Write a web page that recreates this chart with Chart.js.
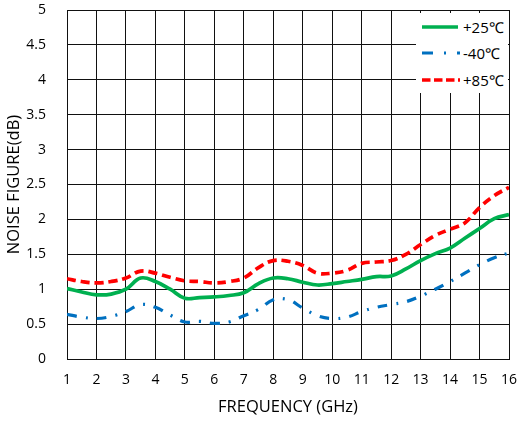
<!DOCTYPE html>
<html>
<head>
<meta charset="utf-8">
<script src="https://cdn.jsdelivr.net/npm/chart.js@4.4.1/dist/chart.umd.min.js"></script>
<style>
  html, body { margin: 0; padding: 0; background: #fff; }
  #wrap { position: relative; width: 517px; height: 421px; }
  #legend {
    position: absolute; left: 416px; top: 13px; width: 92px; height: 80px;
    background: #fff; font-family: "Open Sans", "Liberation Sans", sans-serif; font-size: 15px; color: #000;
  }
  .row { position: absolute; left: 6px; height: 20px; display: flex; align-items: center; }
  .row svg { width: 38px; height: 6px; margin-right: 3px; }
</style>
</head>
<body>
<div id="wrap">
  <canvas id="nf" width="517" height="421"></canvas>
  <div id="legend">
    <div class="row" style="top:4px"><svg><line x1="0" y1="3" x2="36" y2="3" stroke="#00B050" stroke-width="3.5"/></svg>+25℃</div>
    <div class="row" style="top:30px"><svg><line x1="0" y1="3" x2="38" y2="3" stroke="#0070C0" stroke-width="3" stroke-dasharray="11 11 2 11"/></svg>-40℃</div>
    <div class="row" style="top:57px"><svg><line x1="0" y1="3" x2="38" y2="3" stroke="#FF0000" stroke-width="3.5" stroke-dasharray="8.5 3.5"/></svg>+85℃</div>
  </div>
</div>
<script>
// ── Data ──
const freqGHz = [1, 1.5, 2, 2.5, 3, 3.5, 4, 4.5, 5, 5.5, 6, 6.5, 7, 7.5, 8, 8.5,
                 9, 9.5, 10, 10.5, 11, 11.5, 12, 12.5, 13, 13.5, 14, 14.5, 15, 15.5, 16];
const nf25 = [1.01, 0.96, 0.92, 0.93, 1.00, 1.16, 1.11, 1.00, 0.87, 0.88, 0.89, 0.91, 0.95, 1.08, 1.16, 1.15,
              1.10, 1.06, 1.08, 1.11, 1.14, 1.18, 1.19, 1.29, 1.41, 1.51, 1.59, 1.73, 1.87, 2.01, 2.07];
const nfM40 = [0.64, 0.60, 0.58, 0.61, 0.68, 0.78, 0.74, 0.63, 0.53, 0.54, 0.51, 0.53, 0.62, 0.71, 0.85, 0.85,
               0.73, 0.62, 0.58, 0.60, 0.68, 0.74, 0.78, 0.82, 0.90, 1.00, 1.11, 1.23, 1.35, 1.45, 1.52];
const nf85 = [1.15, 1.11, 1.09, 1.11, 1.16, 1.26, 1.23, 1.17, 1.12, 1.11, 1.09, 1.11, 1.16, 1.31, 1.41, 1.40,
              1.34, 1.23, 1.23, 1.27, 1.37, 1.39, 1.41, 1.50, 1.64, 1.77, 1.86, 1.95, 2.17, 2.34, 2.46];
const seriesNames = ['+25℃', '-40℃', '+85℃'];

const pts = arr => arr.map((v, i) => ({ x: freqGHz[i], y: v }));
const font = { family: '"Open Sans", "Liberation Sans", sans-serif' };

new Chart(document.getElementById('nf'), {
  type: 'line',
  data: {
    datasets: [
      { label: seriesNames[0], data: pts(nf25), borderColor: '#00B050', borderWidth: 3.7, tension: 0.4 },
      { label: seriesNames[1], data: pts(nfM40), borderColor: '#0070C0', borderWidth: 3.2, tension: 0.4,
        borderDash: [10, 9, 2, 9] },
      { label: seriesNames[2], data: pts(nf85), borderColor: '#FF0000', borderWidth: 3.7, tension: 0.4,
        borderDash: [9, 5] }
    ]
  },
  options: {
    responsive: false,
    animation: false,
    devicePixelRatio: 1,
    elements: { point: { radius: 0 } },
    layout: { padding: 0 },
    plugins: { legend: { display: false }, tooltip: { enabled: false } },
    scales: {
      x: {
        type: 'linear', min: 1, max: 16,
        grid: { color: '#111', drawTicks: false },
        border: { color: '#111' },
        ticks: { stepSize: 1, padding: 13, color: '#000', font: { ...font, size: 14 } },
        title: { display: true, text: 'FREQUENCY (GHz)', color: '#000', font: { ...font, size: 16.5 } },
        // fixed box: plot ends 8px from the right edge
        afterFit: s => { s.height = 62; s.paddingLeft = 0; s.paddingRight = 8; }
      },
      y: {
        min: 0, max: 5,
        grid: { color: '#111', drawTicks: false },
        border: { color: '#111' },
        ticks: { stepSize: 0.5, padding: 21, color: '#000', font: { ...font, size: 14 },
                 callback: v => String(v) },
        title: { display: true, text: 'NOISE FIGURE(dB)', color: '#000', font: { ...font, size: 16.5 } },
        afterFit: s => { s.width = 67; s.paddingTop = 10; s.paddingBottom = 0; }
      }
    }
  }
});
</script>
</body>
</html>
